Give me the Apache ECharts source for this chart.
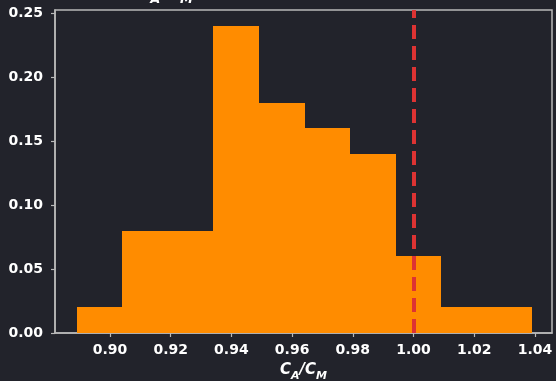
<!DOCTYPE html>
<html>
<head>
<meta charset="utf-8">
<style>
  html, body { margin: 0; padding: 0; background: #22232b; }
  #chart { width: 556px; height: 381px; }
</style>
<script src="https://cdn.jsdelivr.net/npm/echarts@6/dist/echarts.min.js"></script>
</head>
<body>
<div id="chart"></div>
<script>
// Histogram of the C_A/C_M ratio: bin edges and the fraction of samples in each bin
const binEdges = [0.8891, 0.9041, 0.9191, 0.9341, 0.9491, 0.9641, 0.9791, 0.9941, 1.0091, 1.0241, 1.0391];
const binFractions = [0.02, 0.08, 0.08, 0.24, 0.18, 0.16, 0.14, 0.06, 0.02, 0.02];
const referenceRatio = 1.00;

const xTicks = [0.90, 0.92, 0.94, 0.96, 0.98, 1.00, 1.02, 1.04];
const yTicks = [0.00, 0.05, 0.10, 0.15, 0.20, 0.25];
const xRange = [0.8819, 1.0456];
const yRange = [0, 0.2523];

const bins = binFractions.map((f, i) => [binEdges[i], binEdges[i + 1], f]);

const font = 'DejaVu Sans';
const labelColor = '#ffffff';
const frameColor = '#b9b9b9';

const ratioRich = {
  m: { fontFamily: font, fontWeight: 'bold', fontStyle: 'italic', fontSize: 15, color: labelColor, verticalAlign: 'bottom', padding: [0, 0, 4, 0] },
  s: { fontFamily: font, fontWeight: 'bold', fontStyle: 'italic', fontSize: 11, color: labelColor, verticalAlign: 'bottom' }
};
const ratioText = '{m|C}{s|A}{m|/C}{s|M}';

const chart = echarts.init(document.getElementById('chart'), null, { renderer: 'canvas' });
chart.setOption({
  backgroundColor: '#22232b',
  animation: false,
  grid: {
    left: 55, right: 4, top: 10, bottom: 48,
    containLabel: false, outerBoundsMode: 'none',
    show: true, borderColor: frameColor, borderWidth: 1.5, backgroundColor: 'transparent'
  },
  graphic: [{
    type: 'text',
    left: 137, top: -17,
    style: {
      text: '{m|C}{s|A}{m|/C}{s|M}',
      rich: {
        m: { fontFamily: font, fontWeight: 'bold', fontStyle: 'italic', fontSize: 18, fill: labelColor, verticalAlign: 'bottom', padding: [0, 0, 5, 0] },
        s: { fontFamily: font, fontWeight: 'bold', fontStyle: 'italic', fontSize: 13, fill: labelColor, verticalAlign: 'bottom' }
      }
    }
  }],
  xAxis: {
    type: 'value',
    min: xRange[0], max: xRange[1],
    name: ratioText,
    nameLocation: 'middle',
    nameGap: 30,
    nameTextStyle: { rich: ratioRich },
    axisLine: { show: true, onZero: false, lineStyle: { color: frameColor, width: 1.5 } },
    axisTick: { show: true, customValues: xTicks, length: 4, lineStyle: { color: frameColor, width: 1.2 } },
    axisLabel: {
      customValues: xTicks, margin: 10,
      formatter: v => v.toFixed(2),
      color: labelColor, fontFamily: font, fontWeight: 'bold', fontSize: 14
    },
    splitLine: { show: false }
  },
  yAxis: {
    type: 'value',
    min: yRange[0], max: yRange[1],
    axisLine: { show: true, lineStyle: { color: frameColor, width: 1.5 } },
    axisTick: { show: true, customValues: yTicks, length: 4, lineStyle: { color: frameColor, width: 1.2 } },
    axisLabel: {
      customValues: yTicks, margin: 12,
      formatter: v => v.toFixed(2),
      color: labelColor, fontFamily: font, fontWeight: 'bold', fontSize: 14
    },
    splitLine: { show: false }
  },
  series: [{
    type: 'custom',
    data: bins,
    clip: true,
    itemStyle: { borderWidth: 0 },
    renderItem: (params, api) => {
      const p0 = api.coord([api.value(0), api.value(2)]);
      const p1 = api.coord([api.value(1), 0]);
      const x0 = Math.round(p0[0]);
      const x1 = Math.round(p1[0]);
      const y0 = Math.round(p0[1]);
      return {
        type: 'rect',
        shape: { x: x0, y: y0, width: x1 - x0, height: p1[1] - y0 },
        style: { fill: '#ff8c00', stroke: 'none', lineWidth: 0 }
      };
    },
    z: 2
  }, {
    type: 'line',
    data: [],
    markLine: {
      silent: true,
      symbol: 'none',
      label: { show: false },
      lineStyle: { color: '#dd3333', width: 4, type: [14, 7] },
      data: [{ xAxis: referenceRatio }]
    },
    z: 3
  }]
});
</script>
</body>
</html>
